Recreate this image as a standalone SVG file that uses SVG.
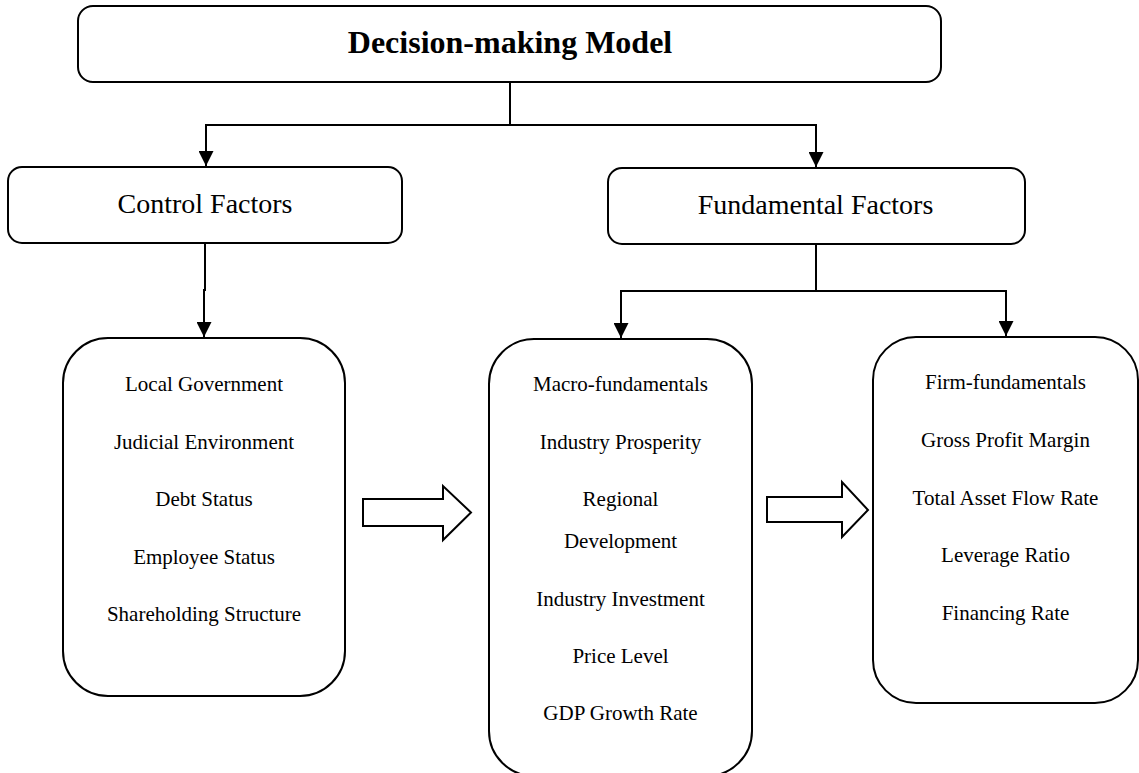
<svg xmlns="http://www.w3.org/2000/svg" width="1139" height="773" viewBox="0 0 1139 773">
<style>
.box{fill:#fff;stroke:#000;stroke-width:2}
.conn{fill:none;stroke:#000;stroke-width:2}
.blk{fill:#fff;stroke:#000;stroke-width:2;stroke-linejoin:miter}
text{font-family:"Liberation Serif","Times New Roman",serif;fill:#000;text-anchor:middle}
.title{font-size:32px;font-weight:bold}
.h{font-size:28px}
.item{font-size:21px}
</style>
<defs>
<marker id="arr" markerUnits="userSpaceOnUse" markerWidth="15" markerHeight="15" refX="15" refY="7.5" orient="auto">
<path d="M0,0 L15,7.5 L0,15 z" fill="#000"/>
</marker>
</defs>
<g id="connectors">
<path class="conn" d="M510,82 V125"/>
<path class="conn" d="M510,125 H206 V166" marker-end="url(#arr)"/>
<path class="conn" d="M510,125 H816 V167" marker-end="url(#arr)"/>
<path class="conn" d="M205,243 V290 H204 V337" marker-end="url(#arr)"/>
<path class="conn" d="M816,244 V291"/>
<path class="conn" d="M816,291 H621 V338" marker-end="url(#arr)"/>
<path class="conn" d="M816,291 H1006 V336" marker-end="url(#arr)"/>
<path class="blk" d="M363,499 H443 V486 L471,512.5 L443,540 V526 H363 Z"/>
<path class="blk" d="M767,497 H842 V482 L868,510 L842,537 V522 H767 Z"/>
</g>
<g id="decision-model">
<rect class="box" x="78" y="6" width="863" height="76" rx="15"/>
<text class="title" x="510" y="53">Decision-making Model</text>
</g>
<g id="control-factors">
<rect class="box" x="8" y="167" width="394" height="76" rx="14"/>
<text class="h" x="205" y="213">Control Factors</text>
</g>
<g id="fundamental-factors">
<rect class="box" x="608" y="168" width="417" height="76" rx="14"/>
<text class="h" x="815.5" y="214">Fundamental Factors</text>
</g>
<g id="control-items">
<rect class="box" x="63" y="338" width="282" height="358" rx="45"/>
<text class="item" x="204" y="391">Local Government</text>
<text class="item" x="204" y="448.5">Judicial Environment</text>
<text class="item" x="204" y="506">Debt Status</text>
<text class="item" x="204" y="563.5">Employee Status</text>
<text class="item" x="204" y="621">Shareholding Structure</text>
</g>
<g id="macro-fundamentals">
<rect class="box" x="489" y="339" width="263" height="437" rx="45"/>
<text class="item" x="620.5" y="391">Macro-fundamentals</text>
<text class="item" x="620.5" y="449">Industry Prosperity</text>
<text class="item" x="620.5" y="506">Regional</text>
<text class="item" x="620.5" y="548">Development</text>
<text class="item" x="620.5" y="606">Industry Investment</text>
<text class="item" x="620.5" y="663">Price Level</text>
<text class="item" x="620.5" y="720">GDP Growth Rate</text>
</g>
<g id="firm-fundamentals">
<rect class="box" x="873" y="337" width="265" height="366" rx="43"/>
<text class="item" x="1005.5" y="389">Firm-fundamentals</text>
<text class="item" x="1005.5" y="447">Gross Profit Margin</text>
<text class="item" x="1005.5" y="505">Total Asset Flow Rate</text>
<text class="item" x="1005.5" y="562">Leverage Ratio</text>
<text class="item" x="1005.5" y="619.5">Financing Rate</text>
</g>
</svg>
